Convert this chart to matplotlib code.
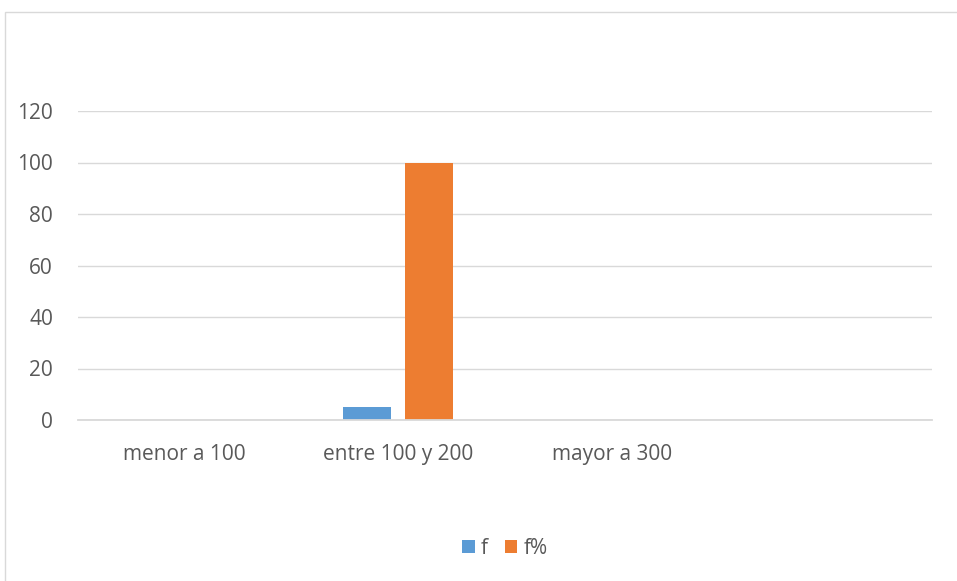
import matplotlib.pyplot as plt
from matplotlib.patches import Rectangle
import numpy as np

# datos
categorias = ["menor a 100", "entre 100 y 200", "mayor a 300", ""]
f = [0, 5, 0, 0]
f_pct = [0, 100, 0, 0]
yticks = [0, 20, 40, 60, 80, 100, 120]

AZUL = "#5B9BD5"
NARANJA = "#ED7D31"
GRIS_TXT = "#595959"
GRIS_LIN = "#D9D9D9"

plt.rcParams["font.family"] = ["Open Sans", "DejaVu Sans"]

fig = plt.figure(figsize=(9.57, 5.81), dpi=100)
W, H = 957, 581

# borde del área del gráfico (solo se ven izquierda y arriba)
fig.patches.append(Rectangle((5 / W, -0.1), 1.2, 1 - 12 / H + 0.1,
                             transform=fig.transFigure, fill=False,
                             edgecolor=GRIS_LIN, linewidth=1.0))

ax = fig.add_axes([78 / W, 1 - 420 / H, (932 - 78) / W, (420 - 111) / H])

x = np.arange(len(categorias))
ancho = 0.225
ax.bar(x - 0.145, f, ancho, color=AZUL, label="f", zorder=3)
ax.bar(x + 0.145, f_pct, ancho, color=NARANJA, label="f%", zorder=3)

ax.set_xlim(-0.5, len(categorias) - 0.5)
ax.set_ylim(0, 120)
ax.set_yticks(yticks)
ax.set_xticks(x)
ax.set_xticklabels(categorias)
ax.grid(axis="y", color=GRIS_LIN, linewidth=1.0, zorder=0)
for s in ["top", "right", "left"]:
    ax.spines[s].set_visible(False)
ax.spines["bottom"].set_color(GRIS_LIN)
ax.spines["bottom"].set_linewidth(1.3)
ax.spines["bottom"].set_zorder(4)
ax.tick_params(axis="both", length=0, colors=GRIS_TXT, labelsize=15)
ax.tick_params(axis="y", pad=18)
ax.tick_params(axis="x", pad=17)

ax.legend(loc="center", bbox_to_anchor=(0.5, (1 - 548 / H - (1 - 420 / H)) / ((420 - 111) / H)),
          ncol=2, frameon=False, fontsize=15, labelcolor=GRIS_TXT,
          handlelength=0.6, handleheight=0.6, handletextpad=0.3, columnspacing=0.8)

fig.savefig("out.png", dpi=100)
